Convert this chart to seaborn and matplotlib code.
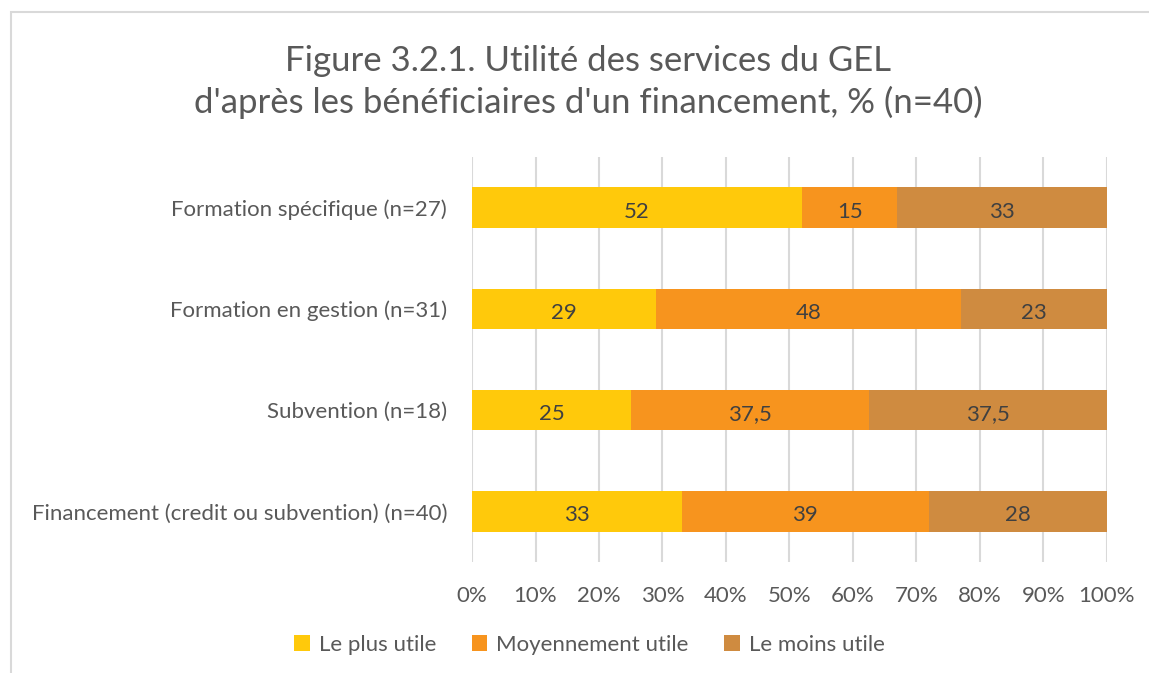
import numpy as np
import pandas as pd
import seaborn as sns
import matplotlib.pyplot as plt
from matplotlib.patches import Patch, Rectangle

categories = ['Formation spécifique (n=27)', 'Formation en gestion (n=31)',
              'Subvention (n=18)', 'Financement (credit ou subvention) (n=40)']
plus_utile = [52, 29, 25, 33]
moyen_utile = [15, 48, 37.5, 39]
moins_utile = [33, 23, 37.5, 28]
series_names = ['Le plus utile', 'Moyennement utile', 'Le moins utile']
colors = ['#FFC90B', '#F7941E', '#CF8B40']
text_color = '#595959'

sns.set_style('white')
plt.rcParams['font.family'] = ['Lato', 'DejaVu Sans']

df = pd.DataFrame({'cat': categories, 'a': plus_utile, 'b': moyen_utile, 'c': moins_utile})
df['ab'] = df['a'] + df['b']
df['abc'] = df['ab'] + df['c']

fig = plt.figure(figsize=(11.49, 6.73), dpi=100)
ax = fig.add_axes([0.4108, 0.1649, 0.5526, 0.6018])

# stacked bars: draw cumulative totals from back to front
for col, c in zip(['abc', 'ab', 'a'], colors[::-1]):
    sns.barplot(data=df, x=col, y='cat', orient='h', color=c, width=0.4,
                saturation=1, order=categories, ax=ax, zorder=3, linewidth=0,
                edgecolor='none')

# value labels
for i in range(len(categories)):
    starts = [0, plus_utile[i], plus_utile[i] + moyen_utile[i]]
    vals = [plus_utile[i], moyen_utile[i], moins_utile[i]]
    for s, v in zip(starts, vals):
        lab = f'{v:g}'.replace('.', ',')
        ax.text(s + v / 2, i + 0.04, lab, ha='center', va='center',
                fontsize=16, color='#404040', zorder=5)

ax.set_xlim(0, 100)
ax.set_ylim(len(categories) - 0.5, -0.5)
ax.set_xticks(np.arange(0, 101, 10))
ax.set_xticklabels([f'{t}%' for t in range(0, 101, 10)])
ax.xaxis.grid(True, color='#D9D9D9', linewidth=1.5, zorder=0)
ax.set_axisbelow(True)
ax.tick_params(axis='both', length=0, labelsize=16, labelcolor=text_color)
ax.tick_params(axis='x', pad=17)
ax.tick_params(axis='y', pad=18)
ax.set_xlabel('')
ax.set_ylabel('')
sns.despine(ax=ax, left=True, bottom=True)

fig.text(0.512, 0.878, "Figure 3.2.1. Utilité des services du GEL\nd'après les bénéficiaires d'un financement, % (n=40)",
         ha='center', va='center', fontsize=25, color=text_color, linespacing=1.35)

handles = [Patch(facecolor=c, edgecolor='none', label=n) for c, n in zip(colors, series_names)]
fig.legend(handles=handles, loc='center', bbox_to_anchor=(0.513, 0.042), ncol=3,
           frameon=False, fontsize=16, labelcolor=text_color, handlelength=0.7,
           handleheight=0.7, handletextpad=0.4, columnspacing=1.6)

# light frame (top and left edges visible)
fig.patches.append(Rectangle((11 / 1149, -0.1), 1.2, 1 - 12 / 673 + 0.1,
                             transform=fig.transFigure, fill=False,
                             edgecolor='#D9D9D9', linewidth=1.5))

fig.savefig('out.png', dpi=100)
